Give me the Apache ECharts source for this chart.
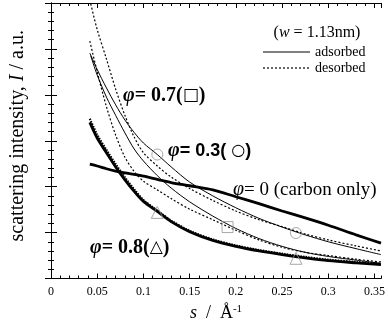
<!DOCTYPE html>
<html>
<head>
<meta charset="utf-8">
<script src="https://cdn.jsdelivr.net/npm/echarts@6/dist/echarts.min.js"></script>
<style>
  html, body { margin: 0; padding: 0; background: #fff; }
  #chart { width: 388px; height: 327px; }
</style>
</head>
<body>
<div id="chart"></div>
<script>
// scattering vector s (1/Å) sample points
const sMain = [0.042, 0.05, 0.06, 0.07, 0.08, 0.09, 0.10, 0.115, 0.13, 0.15, 0.175, 0.2, 0.225, 0.25, 0.275, 0.3, 0.33, 0.357];
const sLate = [0.043, 0.05, 0.06, 0.07, 0.08, 0.09, 0.10, 0.115, 0.13, 0.15, 0.175, 0.2, 0.225, 0.25, 0.275, 0.3, 0.33, 0.357];

// scattering intensity I (a.u.)
const carbonOnly = [2.49, 2.45, 2.39, 2.34, 2.30, 2.27, 2.23, 2.16, 2.09, 2.02, 1.93, 1.78, 1.63, 1.47, 1.32, 1.16, 0.95, 0.77];
const phi08Ads = [3.40, 3.06, 2.74, 2.43, 2.15, 1.90, 1.68, 1.46, 1.24, 1.02, 0.83, 0.70, 0.60, 0.52, 0.45, 0.39, 0.34, 0.30];
const phi08Des = [3.48, 3.13, 2.80, 2.49, 2.20, 1.94, 1.71, 1.48, 1.26, 1.04, 0.85, 0.72, 0.62, 0.54, 0.47, 0.41, 0.36, 0.32];
const phi03Ads = [4.91, 4.55, 4.15, 3.78, 3.45, 3.18, 2.95, 2.70, 2.43, 2.10, 1.80, 1.54, 1.31, 1.12, 0.95, 0.80, 0.65, 0.52];
const phi03Des = [5.98, 5.42, 4.78, 4.12, 3.55, 3.08, 2.74, 2.45, 2.21, 1.96, 1.70, 1.47, 1.28, 1.13, 0.97, 0.84, 0.71, 0.60];
const phi07Ads = [4.85, 4.43, 3.95, 3.55, 3.17, 2.82, 2.56, 2.24, 1.97, 1.67, 1.36, 1.09, 0.87, 0.70, 0.57, 0.48, 0.40, 0.33];
const phi07Des = [5.17, 4.50, 3.74, 3.12, 2.64, 2.33, 2.12, 1.93, 1.74, 1.51, 1.28, 1.05, 0.84, 0.68, 0.57, 0.50, 0.42, 0.36];

// marker positions
const circleS = [0.115, 0.265];
const circleI = [2.70, 0.99];
const squareS = [0.191];
const squareI = [1.12];
const triangleS = [0.115, 0.265];
const triangleI = [1.44, 0.44];

// axis settings
const xMax = 0.357;
const xMajor = 0.05;
const xMinor = 0.01;
const yMax = 6;
const yMajor = 1;

const SERIF = 'Liberation Serif';
const SANS = 'Liberation Sans';
const SYM = 'DejaVu Sans';

const pairs = (xs, ys) => xs.map((x, i) => [x, ys[i]]);

function curve(name, xs, ys, width, dash) {
  return {
    type: 'line', name: name, data: pairs(xs, ys),
    showSymbol: false, symbol: 'none', smooth: 0.3,
    lineStyle: { color: '#000', width: width, type: dash || 'solid' },
    silent: true, z: 3
  };
}

function markers(xs, ys, symbol, size) {
  return {
    type: 'scatter', data: pairs(xs, ys), symbol: symbol, symbolSize: size,
    itemStyle: { color: 'rgba(0,0,0,0)', borderColor: '#949494', borderWidth: 1 },
    silent: true, z: 5
  };
}

const chart = echarts.init(document.getElementById('chart'), null, { renderer: 'canvas' });

const tickStyle = { color: '#000', width: 1 };

const option = {
  animation: false,
  backgroundColor: '#fff',
  grid: { left: 47, right: 7, top: 3, bottom: 42, containLabel: false },
  xAxis: [
    {
      type: 'value', min: 0, max: xMax, interval: xMajor, position: 'bottom',
      axisLine: { show: true, lineStyle: tickStyle },
      axisTick: { show: true, inside: true, length: 5, lineStyle: tickStyle },
      axisLabel: { fontFamily: SERIF, fontSize: 12, color: '#000', margin: 7, showMaxLabel: false },
      splitLine: { show: false },
      name: '{i|s}{t|  /  Å}{u|-1}',
      nameLocation: 'middle', nameGap: 25,
      nameTextStyle: {
        rich: {
          i: { fontFamily: SERIF, fontStyle: 'italic', fontSize: 18, color: '#000' },
          t: { fontFamily: SERIF, fontSize: 18, color: '#000' },
          u: { fontFamily: SERIF, fontSize: 11, color: '#000', verticalAlign: 'top', padding: [0, 0, 8, 0] }
        }
      }
    },
    {
      type: 'value', min: 0, max: xMax, interval: xMinor, position: 'bottom',
      axisLine: { show: false }, axisLabel: { show: false }, splitLine: { show: false },
      axisTick: { show: true, inside: true, length: 3, lineStyle: tickStyle }
    },
    {
      type: 'value', min: 0, max: xMax, interval: xMajor, position: 'top',
      axisLine: { show: true, lineStyle: tickStyle }, axisLabel: { show: false }, splitLine: { show: false },
      axisTick: { show: true, inside: true, length: 5, lineStyle: tickStyle }
    },
    {
      type: 'value', min: 0, max: xMax, interval: xMinor, position: 'top',
      axisLine: { show: false }, axisLabel: { show: false }, splitLine: { show: false },
      axisTick: { show: true, inside: true, length: 3, lineStyle: tickStyle }
    }
  ],
  yAxis: [
    {
      type: 'value', min: 0, max: yMax, interval: yMajor, position: 'left',
      axisLine: { show: true, lineStyle: tickStyle },
      axisTick: { show: true, inside: true, length: 6, lineStyle: tickStyle },
      minorTick: { show: true, splitNumber: 5, length: 3, lineStyle: tickStyle },
      axisLabel: { show: false }, splitLine: { show: false },
      name: '{t|scattering intensity, }{i|I}{t| / a.u.}',
      nameLocation: 'middle', nameGap: 23, nameRotate: 90,
      nameTextStyle: {
        padding: [0, 0, 0, 10],
        rich: {
          t: { fontFamily: SERIF, fontSize: 20, color: '#000' },
          i: { fontFamily: SERIF, fontStyle: 'italic', fontSize: 20, color: '#000' }
        }
      }
    },
    {
      type: 'value', min: 0, max: yMax, interval: yMajor, position: 'right',
      axisLine: { show: true, lineStyle: tickStyle },
      axisTick: { show: true, inside: true, length: 6, lineStyle: tickStyle },
      minorTick: { show: true, splitNumber: 5, length: 3, lineStyle: tickStyle },
      axisLabel: { show: false }, splitLine: { show: false }
    }
  ],
  series: [
    curve('phi=0.3 adsorbed', sMain, phi03Ads, 1),
    curve('phi=0.3 desorbed', sLate, phi03Des, 1.2, [2, 2]),
    curve('phi=0.7 adsorbed', sLate, phi07Ads, 1),
    curve('phi=0.7 desorbed', sMain, phi07Des, 1.2, [2, 2]),
    curve('phi=0.8 desorbed', sMain, phi08Des, 2.2, [1.5, 1.2]),
    curve('phi=0.8 adsorbed', sMain, phi08Ads, 2.8),
    curve('phi=0 carbon only', sMain, carbonOnly, 2.8),
    markers(circleS, circleI, 'circle', 11),
    markers(squareS, squareI, 'rect', 11),
    markers(triangleS, triangleI, 'triangle', 12)
  ],
  graphic: [
    // legend block
    {
      type: 'text', x: 317, y: 33, silent: true,
      style: {
        text: '{t|(}{i|w}{t| = 1.13nm)}', align: 'center', verticalAlign: 'middle',
        rich: {
          t: { fontFamily: SERIF, fontSize: 16, fill: '#000' },
          i: { fontFamily: SERIF, fontSize: 16, fontStyle: 'italic', fill: '#000' }
        }
      }
    },
    { type: 'line', silent: true, shape: { x1: 263, y1: 52, x2: 310, y2: 52 }, style: { stroke: '#000', lineWidth: 1 } },
    { type: 'line', silent: true, shape: { x1: 263, y1: 68, x2: 310, y2: 68 }, style: { stroke: '#000', lineWidth: 1.2, lineDash: [2, 2] } },
    { type: 'text', x: 315, y: 52, silent: true, style: { text: 'adsorbed', font: '14px "Liberation Serif"', fill: '#000', verticalAlign: 'middle' } },
    { type: 'text', x: 315, y: 68, silent: true, style: { text: 'desorbed', font: '14px "Liberation Serif"', fill: '#000', verticalAlign: 'middle' } },

    // curve annotations
    {
      type: 'text', x: 123, y: 96, silent: true,
      style: {
        text: '{p|φ}{b|= 0.7(}{s|□}{b|)}', verticalAlign: 'middle',
        rich: {
          p: { fontFamily: SERIF, fontStyle: 'italic', fontWeight: 'bold', fontSize: 20, fill: '#000' },
          b: { fontFamily: SERIF, fontWeight: 'bold', fontSize: 20, fill: '#000' },
          s: { fontFamily: SYM, fontSize: 17, fill: '#000' }
        }
      }
    },
    {
      type: 'text', x: 168, y: 151, silent: true,
      style: {
        text: '{p|φ}{b|= 0.3( }{s|○}{b|)}', verticalAlign: 'middle',
        rich: {
          p: { fontFamily: SERIF, fontStyle: 'italic', fontWeight: 'bold', fontSize: 20, fill: '#000' },
          b: { fontFamily: SANS, fontWeight: 'bold', fontSize: 18, fill: '#000' },
          s: { fontFamily: SYM, fontSize: 16, fill: '#000' }
        }
      }
    },
    {
      type: 'text', x: 233, y: 190, silent: true,
      style: {
        text: '{p|φ}{t|= 0 (carbon only)}', verticalAlign: 'middle',
        rich: {
          p: { fontFamily: SERIF, fontStyle: 'italic', fontSize: 20, fill: '#000' },
          t: { fontFamily: SERIF, fontSize: 19, fill: '#000' }
        }
      }
    },
    {
      type: 'text', x: 90, y: 248, silent: true,
      style: {
        text: '{p|φ}{b|= 0.8(}{s|△}{b|)}', verticalAlign: 'middle',
        rich: {
          p: { fontFamily: SERIF, fontStyle: 'italic', fontWeight: 'bold', fontSize: 20, fill: '#000' },
          b: { fontFamily: SERIF, fontWeight: 'bold', fontSize: 20, fill: '#000' },
          s: { fontFamily: SYM, fontSize: 17, fill: '#000' }
        }
      }
    }
  ]
};

chart.setOption(option);
</script>
</body>
</html>
